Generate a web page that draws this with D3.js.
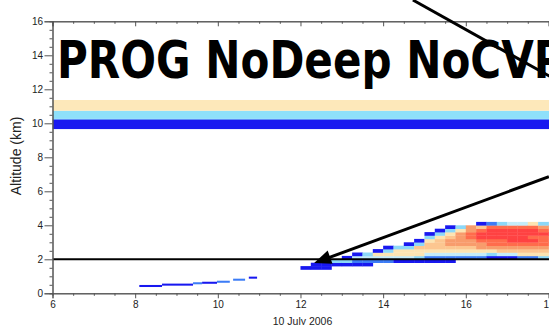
<!DOCTYPE html>
<html>
<head>
<meta charset="utf-8">
<script src="https://cdn.jsdelivr.net/npm/d3@7"></script>
<style>
  html, body { margin: 0; padding: 0; background: #fff; }
  svg { display: block; }
  text { font-family: "Liberation Sans", Arial, Helvetica, sans-serif; }
</style>
</head>
<body>
<svg id="chart" width="549" height="325"></svg>
<script>
// ---- value classes (lowest to highest) and their colours ----
const classCodes  = ["b", "m", "l", "p", "t", "o", "s", "r", "R"];
const classColors = ["#1818f0", "#3c7cf6", "#8cd8f8", "#c4ecf9", "#fce4b2", "#fcc690", "#f89c6c", "#ff6c4c", "#ff4242"];

// ---- axes ----
const xMajorTicks = [6, 8, 10, 12, 14, 16, 18, 20];
const yMajorTicks = [0, 2, 4, 6, 8, 10, 12, 14, 16];

// ---- upper layers present over the whole period ----
const bandBottomKm = [9.66, 10.21, 10.26, 10.74];
const bandTopKm    = [10.21, 10.26, 10.74, 11.37];
const bandClass    = ["b", "m", "l", "t"];

// ---- thin morning layer ----
const driftStart = [8.10, 8.65, 9.40, 9.62, 9.98, 10.37, 10.75];
const driftEnd   = [8.65, 9.40, 9.62, 9.98, 10.29, 10.66, 10.95];
const driftKm    = [0.43, 0.51, 0.59, 0.62, 0.68, 0.80, 0.92];
const driftClass = ["b", "b", "m", "b", "m", "m", "b"];

// ---- afternoon cloud layer: one string per time step, model levels bottom -> top ('.' = none) ----
const cloudHours = [12.00, 12.25, 12.50, 12.75, 13.00, 13.25, 13.50, 13.75, 14.00, 14.25,
                    14.50, 14.75, 15.00, 15.25, 15.50, 15.75, 16.00, 16.25, 16.50, 16.75,
                    17.00, 17.25, 17.50, 17.75, 18.00];
const levelKm = [1.4, 1.6, 1.8, 2.0, 2.2, 2.4, 2.6, 2.8, 3.0, 3.2, 3.4, 3.6, 3.8, 4.0];
const cloudColumns = [
  "b",
  "bb",
  "bbl",
  ".bl",
  ".blb",
  ".bmpb",
  ".bmpl",
  "..mptb",
  "..mptlb",
  "..bpttl",
  "..bpttlb",
  "..blttolb",
  "..bmptootlb",
  "..bmptoootlb",
  "..bmptossotlb",
  "...mptosssstl",
  "...mptossrrss",
  "...mptssrRRrob",
  "...bltsrrRRRrm",
  "...bposrrRRRrl",
  "...bposrRRRRrp",
  "...mtosrRRRRrp",
  "...mtosrRrRRrt",
  "...ltosrrrRrsl",
  "...ltosrrrRrsl"
];
const cloudStepHour = 0.25;
const levelStepKm = 0.2;

// ---- annotation arrows, in data units (hours, km) ----
const arrowTail = [[14.72, 17.25], [18.01, 6.86]];
const arrowHead = [[18.30, 12.40], [12.33, 1.78]];
const arrowHasHead = [false, true];

const refAltitudeKm = 2;

// ---------------------------------------------------------------
const svg = d3.select("#chart");
const W = 549, H = 325;

const x = d3.scaleLinear().domain([6, 19]).range([52.5, 52.5 + 13 * 41.33]);
const y = d3.scaleLinear().domain([0, 16]).range([293.3, 21.3]);
const colorOf = d3.scaleOrdinal().domain(classCodes).range(classColors);

const plotRight = W + 2;

// subtitle (upper part clipped off)
svg.append("clipPath").attr("id", "subClip")
  .append("rect").attr("x", 0).attr("y", 4.5).attr("width", 300).attr("height", 20);
const sub = svg.append("text")
  .attr("clip-path", "url(#subClip)")
  .attr("fill", "#333")
  .style("font-size", "12px")
  .text("Simulation: PROG3_L60_300s");
const subW = sub.node().getComputedTextLength();
sub.attr("transform", `translate(52.5,11.3) scale(${140 / subW},1)`);

// plot clip
svg.append("clipPath").attr("id", "plotClip")
  .append("rect").attr("x", x(6)).attr("y", y(16)).attr("width", plotRight - x(6)).attr("height", y(0) - y(16));

const plot = svg.append("g").attr("clip-path", "url(#plotClip)");

// upper bands
plot.append("g").selectAll("rect")
  .data(bandClass.map((c, i) => ({ c, lo: bandBottomKm[i], hi: bandTopKm[i] })))
  .join("rect")
  .attr("x", x(6))
  .attr("width", plotRight - x(6))
  .attr("y", d => y(d.hi))
  .attr("height", d => y(d.lo) - y(d.hi))
  .attr("fill", d => d.c === "t" ? "#fde8ba" : d.c === "l" ? "#8ee0fa" : colorOf(d.c));

// morning thin layer
plot.append("g").selectAll("rect")
  .data(driftClass.map((c, i) => ({ c, t0: driftStart[i], t1: driftEnd[i], km: driftKm[i] })))
  .join("rect")
  .attr("x", d => x(d.t0))
  .attr("width", d => x(d.t1) - x(d.t0))
  .attr("y", d => y(d.km + 0.06))
  .attr("height", d => y(d.km - 0.06) - y(d.km + 0.06))
  .attr("fill", d => colorOf(d.c));

// afternoon cloud cells
const cells = [];
cloudColumns.forEach((col, i) => {
  col.split("").forEach((c, k) => {
    if (c !== ".") cells.push({ t: cloudHours[i], km: levelKm[k], c });
  });
});
plot.append("g").selectAll("rect")
  .data(cells)
  .join("rect")
  .attr("x", d => x(d.t))
  .attr("width", d => x(d.t + cloudStepHour) - x(d.t) + 0.3)
  .attr("y", d => y(d.km + levelStepKm))
  .attr("height", d => y(d.km) - y(d.km + levelStepKm) + 0.3)
  .attr("fill", d => colorOf(d.c));

// reference altitude line
plot.append("line")
  .attr("x1", x(6)).attr("x2", plotRight)
  .attr("y1", y(refAltitudeKm)).attr("y2", y(refAltitudeKm))
  .attr("stroke", "#000").attr("stroke-width", 2);

// ---- axes ----
const axisColor = "#555";
const xMinor = d3.range(6, 19.01, 0.5).filter(v => !xMajorTicks.includes(v));
const yMinor = d3.range(0, 16.01, 0.5).filter(v => !yMajorTicks.includes(v));

function styleAxis(g) {
  g.select(".domain").attr("stroke", axisColor);
  g.selectAll(".tick line").attr("stroke", axisColor);
  g.selectAll(".tick text").attr("fill", "#222").style("font-size", "10px")
    .style("font-family", "'Liberation Sans', Arial, sans-serif");
}

// bottom
svg.append("g").attr("transform", `translate(0,${y(0)})`)
  .call(d3.axisBottom(x).tickValues(xMinor).tickSize(2.5).tickFormat(""))
  .call(styleAxis);
svg.append("g").attr("transform", `translate(0,${y(0)})`)
  .call(d3.axisBottom(x).tickValues(xMajorTicks).tickSize(5).tickPadding(3).tickFormat(d3.format("d")))
  .call(styleAxis);

// top (ticks pointing into the plot)
svg.append("g").attr("transform", `translate(0,${y(16)})`)
  .call(d3.axisBottom(x).tickValues(xMinor).tickSize(2.5).tickFormat(""))
  .call(styleAxis);
svg.append("g").attr("transform", `translate(0,${y(16)})`)
  .call(d3.axisBottom(x).tickValues(xMajorTicks).tickSize(5).tickFormat(""))
  .call(styleAxis);

// left
svg.append("g").attr("transform", `translate(${x(6)},0)`)
  .call(d3.axisLeft(y).tickValues(yMinor).tickSize(3).tickFormat(""))
  .call(styleAxis);
svg.append("g").attr("transform", `translate(${x(6)},0)`)
  .call(d3.axisLeft(y).tickValues(yMajorTicks).tickSize(8).tickPadding(1.5).tickFormat(d3.format("d")))
  .call(styleAxis);

// axis titles
svg.append("text")
  .attr("transform", `translate(21,156) rotate(-90)`)
  .attr("text-anchor", "middle")
  .attr("fill", "#222")
  .style("font-size", "14px")
  .text("Altitude (km)");

svg.append("text")
  .attr("x", 302.5).attr("y", 324.5)
  .attr("text-anchor", "middle")
  .attr("fill", "#222")
  .style("font-size", "10.5px")
  .text("10 July 2006");

// big heading
const head = svg.append("text")
  .attr("fill", "#000")
  .style("font-family", "'DejaVu Sans', sans-serif")
  .style("font-weight", "bold")
  .style("font-size", "52px")
  .text("PROG NoDeep NoCVP");
const headW = head.node().getSubStringLength(0, 16);
head.attr("transform", `translate(57,78) scale(${477 / headW},1)`);

// annotation arrows
arrowTail.forEach((tail, i) => {
  const [x0, y0] = [x(tail[0]), y(tail[1])];
  const [x1, y1] = [x(arrowHead[i][0]), y(arrowHead[i][1])];
  const dx = x1 - x0, dy = y1 - y0, len = Math.hypot(dx, dy);
  const ux = dx / len, uy = dy / len;
  const headLen = arrowHasHead[i] ? 17 : 0, halfW = 7;
  svg.append("line")
    .attr("x1", x0).attr("y1", y0)
    .attr("x2", x1 - ux * headLen * 0.8).attr("y2", y1 - uy * headLen * 0.8)
    .attr("stroke", "#000").attr("stroke-width", 3);
  if (arrowHasHead[i]) {
    const bx = x1 - ux * headLen, by = y1 - uy * headLen;
    svg.append("path")
      .attr("d", `M${x1},${y1}L${bx - uy * halfW},${by + ux * halfW}L${bx + uy * halfW},${by - ux * halfW}Z`)
      .attr("fill", "#000");
  }
});
</script>
</body>
</html>
